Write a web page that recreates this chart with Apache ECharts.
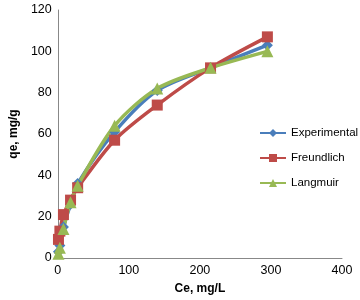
<!DOCTYPE html>
<html>
<head>
<meta charset="utf-8">
<script src="https://cdn.jsdelivr.net/npm/echarts@6/dist/echarts.min.js"></script>
<style>
  html, body { margin: 0; padding: 0; background: #fff; }
  #chart { width: 360px; height: 300px; }
</style>
</head>
<body>
<div id="chart"></div>
<script>
const ce = [1, 3, 8, 18, 28, 80, 140, 215, 295];
const experimental = [3, 6, 15, 26, 36, 61, 81, 92, 103];
const freundlich = [9, 13, 21, 28, 34, 57, 74, 92, 107];
const langmuir = [2, 5, 14, 27, 35, 64, 82, 92, 100];

const pairs = (ys) => ce.map((x, i) => [x, ys[i]]);

let chart = echarts.init(document.getElementById('chart'));

const font = 'Liberation Sans';

const option = {
    animation: false,
    textStyle: { fontFamily: font },
    legend: {
        orient: 'vertical',
        left: 259,
        top: 127,
        padding: 0,
        itemWidth: 26,
        itemHeight: 10,
        itemGap: 13,
        textStyle: { fontSize: 11.5, color: '#000', fontFamily: font }
    },
    grid: {
        left: 51,
        right: 18,
        top: 10,
        bottom: 42
    },
    xAxis: {
        type: 'value',
        min: 0,
        max: 400,
        interval: 100,
        name: 'Ce, mg/L',
        nameLocation: 'middle',
        nameGap: 25,
        nameTextStyle: { fontWeight: 'bold', fontSize: 12, color: '#000' },
        axisLine: { lineStyle: { color: '#888' } },
        axisTick: { show: false },
        axisLabel: { color: '#000', fontSize: 12.5, margin: 6 },
        splitLine: { show: false }
    },
    yAxis: {
        type: 'value',
        min: 0,
        max: 120,
        interval: 20,
        name: 'qe, mg/g',
        nameLocation: 'middle',
        nameGap: 33,
        nameTextStyle: { fontWeight: 'bold', fontSize: 12, color: '#000' },
        axisLine: { show: true, lineStyle: { color: '#888' } },
        axisTick: { show: false },
        axisLabel: { color: '#000', fontSize: 12.5, margin: 6 },
        splitLine: { show: false }
    },
    series: [
        {
            name: 'Experimental',
            type: 'line',
            data: pairs(experimental),
            symbol: 'diamond',
            symbolSize: 11,
            smooth: 0.3,
            color: '#4a7ebb',
            lineStyle: { width: 3.5 }
        },
        {
            name: 'Freundlich',
            type: 'line',
            data: pairs(freundlich),
            symbol: 'rect',
            symbolSize: 11,
            smooth: 0.3,
            color: '#be4b48',
            lineStyle: { width: 3.5 }
        },
        {
            name: 'Langmuir',
            type: 'line',
            data: pairs(langmuir),
            symbol: 'triangle',
            symbolSize: 12,
            smooth: 0.3,
            color: '#98b954',
            lineStyle: { width: 3.5 }
        }
    ]
};

option && chart.setOption(option);
window.addEventListener('resize', chart.resize);
</script>
</body>
</html>
